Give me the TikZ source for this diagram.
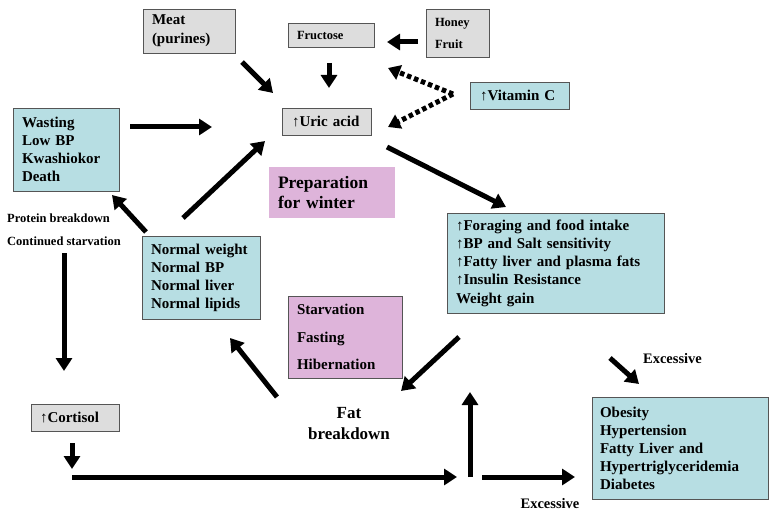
\documentclass[tikz,border=0pt]{standalone}
\usepackage{fontspec}
\setmainfont{Liberation Serif}
\usetikzlibrary{arrows.meta}
\definecolor{teal}{RGB}{183,222,227}
\definecolor{grayb}{RGB}{221,221,221}
\definecolor{pinkb}{RGB}{222,180,218}
\definecolor{edge}{RGB}{85,85,85}
\newcommand{\fsz}[2]{\fontsize{#1}{#2}\selectfont\bfseries}
\begin{document}
\begin{tikzpicture}[x=1pt,y=-1pt,
  boxb/.style={draw=edge,line width=0.8pt,rectangle,inner ysep=0pt,align=left,anchor=center},
  tealbox/.style={boxb,fill=teal},
  graybox/.style={boxb,fill=grayb},
  pinkbox/.style={boxb,fill=pinkb},
  arr/.style={line width=5pt,-{Triangle[length=13pt,width=16pt]}},
  darr/.style={line width=5pt,dash pattern=on 4.5pt off 3pt,-{Triangle[length=12pt,width=15pt]}},
  lab/.style={inner sep=0pt,align=left}]
\useasboundingbox (0,0) rectangle (777,516);
\fill[white] (0,0) rectangle (777,516);
% boxes
\node[graybox,minimum width=92pt,minimum height=44pt,text width=74pt,font={\fsz{15}{19}}] (meat) at (189,31) {Meat\\(purines)};
\node[graybox,minimum width=86pt,minimum height=24pt,text width=68pt,font={\fsz{12.5}{15}}] (fruc) at (331,35) {Fructose};
\node[graybox,minimum width=63pt,minimum height=48pt,text width=45pt,font={\fsz{12.5}{22}}] (honey) at (457.5,33) {Honey\\Fruit};
\node[tealbox,minimum width=99pt,minimum height=27pt,text width=79pt,font={\fsz{15}{18}}] (vitc) at (519.5,95.5) {↑Vitamin C};
\node[graybox,minimum width=89pt,minimum height=27pt,text width=69pt,font={\fsz{15}{18}}] (uric) at (326.5,121.5) {↑Uric acid};
\node[tealbox,minimum width=106pt,minimum height=83pt,text width=88pt,font={\fsz{15}{18}}] (wast) at (66,149.5) {Wasting\\Low BP\\Kwashiokor\\Death};
\node[boxb,draw=none,fill=pinkb,minimum width=126pt,minimum height=51pt,text width=108pt,font={\fsz{17.5}{20.5}}] (prep) at (332,192.5) {Preparation\\for winter};
\node[tealbox,minimum width=217pt,minimum height=100pt,text width=199pt,font={\fsz{15}{18.3}}] (forage) at (555.5,263) {↑Foraging and food intake\\↑BP and Salt sensitivity\\↑Fatty liver and plasma fats\\↑Insulin Resistance\\Weight gain};
\node[tealbox,minimum width=118pt,minimum height=83pt,text width=100pt,font={\fsz{15}{18}}] (norm) at (201,277.5) {Normal weight\\Normal BP\\Normal liver\\Normal lipids};
\node[pinkbox,minimum width=114pt,minimum height=82pt,text width=96pt,font={\fsz{15}{27.5}}] (starv) at (345,337) {Starvation\\Fasting\\Hibernation};
\node[graybox,minimum width=88pt,minimum height=27pt,text width=70pt,font={\fsz{15}{18}}] (cort) at (75,417.5) {↑Cortisol};
\node[tealbox,minimum width=176pt,minimum height=102pt,text width=160pt,font={\fsz{15}{18}}] (obes) at (680,448) {Obesity\\Hypertension\\Fatty Liver and\\Hypertriglyceridemia\\Diabetes};
% free labels
\node[lab,anchor=west,font={\fsz{12.5}{15}}] (prot) at (7,218) {Protein breakdown};
\node[lab,anchor=west,font={\fsz{12.5}{15}}] (cont) at (7,241) {Continued starvation};
\node[lab,align=center,font={\fsz{17}{21}}] (fat) at (349,423.5) {Fat\\breakdown};
\node[lab,font={\fsz{14.5}{17}}] (exc1) at (672.5,359) {Excessive};
\node[lab,font={\fsz{14.5}{17}}] (exc2) at (550,504) {Excessive};
% arrow end points
\coordinate (m1) at (242,62);  \coordinate (m2) at (273,93);
\coordinate (f1) at (329,63);  \coordinate (f2) at (329,88);
\coordinate (h1) at (418,42);  \coordinate (h2) at (387,42);
\coordinate (v0) at (453,94);  \coordinate (v1) at (388,68); \coordinate (v2) at (388,127);
\coordinate (u1) at (387,147); \coordinate (u2) at (506,207);
\coordinate (w1) at (130,127); \coordinate (w2) at (212,127);
\coordinate (n1) at (183,218); \coordinate (n2) at (265,141);
\coordinate (n3) at (146,232); \coordinate (n4) at (112,195);
\coordinate (s1) at (64,253);  \coordinate (s2) at (64,371);
\coordinate (b1) at (277,397); \coordinate (b2) at (230,338);
\coordinate (g1) at (459,337); \coordinate (g2) at (401,391);
\coordinate (c1) at (72,443);  \coordinate (c2) at (72,469);
\coordinate (l1) at (72,477);  \coordinate (l2) at (457,477);
\coordinate (t1) at (470,477); \coordinate (t2) at (470,392);
\coordinate (r1) at (482,477); \coordinate (r2) at (575,477);
\coordinate (e1) at (610,358); \coordinate (e2) at (639,384);
% arrows
\draw[arr] (m1) -- (m2);
\draw[arr] (f1) -- (f2);
\draw[arr] (h1) -- (h2);
\draw[darr] (v0) -- (v1);
\draw[darr] (v0) -- (v2);
\draw[arr] (u1) -- (u2);
\draw[arr] (w1) -- (w2);
\draw[arr] (n1) -- (n2);
\draw[arr] (n3) -- (n4);
\draw[arr] (s1) -- (s2);
\draw[arr] (b1) -- (b2);
\draw[arr] (g1) -- (g2);
\draw[arr] (c1) -- (c2);
\draw[arr] (l1) -- (l2);
\draw[arr] (t1) -- (t2);
\draw[arr] (r1) -- (r2);
\draw[arr] (e1) -- (e2);
\end{tikzpicture}
\end{document}
